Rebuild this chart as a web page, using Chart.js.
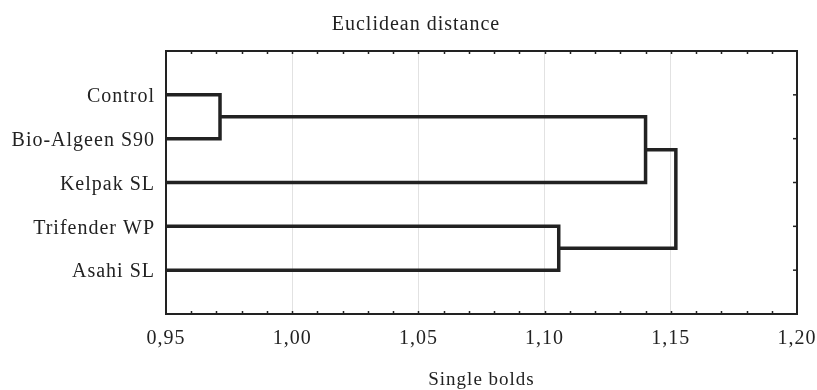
<!DOCTYPE html>
<html>
<head>
<meta charset="utf-8">
<style>
  html, body { margin: 0; padding: 0; background: #fff; }
  #wrap { width: 817px; height: 390px; }
</style>
</head>
<body>
<div id="wrap"><canvas id="tree"></canvas></div>

<script src="https://cdn.jsdelivr.net/npm/chart.js"></script>
<script>
  // leaves, top to bottom
  const categories = ['Control', 'Bio-Algeen S90', 'Kelpak SL', 'Trifender WP', 'Asahi SL'];
  // linkage: node ids 0-4 are leaves, 5+ are the merged clusters in order
  const leftChild = [0, 5, 3, 6];
  const rightChild = [1, 2, 4, 7];
  const linkDistance = [0.9714, 1.1400, 1.1056, 1.1520];
  const xMin = 0.95, xMax = 1.20, xStep = 0.05, xMinorStep = 0.01;

  const ink = '#222';

  // position of each node: leaves sit on the left edge, clusters at their link distance
  const nodes = categories.map((c, i) => ({ x: xMin, y: i + 1 }));
  const datasets = [];
  linkDistance.forEach((d, j) => {
    const a = nodes[leftChild[j]], b = nodes[rightChild[j]];
    datasets.push({
      data: [{ x: a.x, y: a.y }, { x: d, y: a.y }, { x: d, y: b.y }, { x: b.x, y: b.y }],
      showLine: true,
      borderColor: ink,
      borderWidth: 3.5,
      borderJoinStyle: 'miter',
      borderCapStyle: 'butt',
      pointRadius: 0,
      tension: 0
    });
    nodes.push({ x: d, y: (a.y + b.y) / 2 });
  });

  // canvas letter spacing, the original text is set a bit loose
  const spacing = {
    id: 'spacing',
    beforeUpdate(chart) { chart.ctx.letterSpacing = '1px'; },
    beforeDraw(chart) { chart.ctx.letterSpacing = '1px'; },
    afterLayout(chart) {
      // the title sits a little right of the page centre
      if (chart.titleBlock) chart.titleBlock.left = 15;
    }
  };

  // box round the plot plus the small inward ticks
  const frame = {
    id: 'frame',
    afterDatasetsDraw(chart) {
      const { ctx, chartArea: a, scales } = chart;
      ctx.save();
      ctx.strokeStyle = ink;
      ctx.lineWidth = 1.5;
      const n = Math.round((xMax - xMin) / xMinorStep);
      for (let i = 1; i < n; i++) {
        const px = Math.round(scales.x.getPixelForValue(xMin + i * xMinorStep)) + 0.5;
        ctx.beginPath();
        ctx.moveTo(px, a.top); ctx.lineTo(px, a.top + 3);
        ctx.moveTo(px, a.bottom); ctx.lineTo(px, a.bottom - 3);
        ctx.stroke();
      }
      categories.forEach((c, i) => {
        const py = scales.y.getPixelForValue(i + 1);
        ctx.beginPath();
        ctx.moveTo(a.right, py); ctx.lineTo(a.right - 4, py);
        ctx.stroke();
      });
      ctx.lineWidth = 2;
      ctx.strokeRect(a.left, a.top, a.right - a.left, a.bottom - a.top);
      ctx.restore();
    }
  };

  Chart.defaults.font.family = "'Liberation Serif', 'Times New Roman', serif";
  Chart.defaults.color = ink;

  new Chart(document.getElementById('tree'), {
    type: 'scatter',
    data: { datasets },
    options: {
      responsive: true,
      maintainAspectRatio: false,
      animation: false,
      layout: { padding: 0 },
      plugins: {
        legend: { display: false },
        tooltip: { enabled: false },
        title: {
          display: true,
          text: 'Euclidean distance',
          font: { size: 20, weight: 'normal' },
          padding: { top: 13, bottom: 14 }
        }
      },
      scales: {
        x: {
          type: 'linear',
          min: xMin,
          max: xMax,
          ticks: {
            stepSize: xStep,
            padding: 13,
            maxRotation: 0,
            autoSkip: false,
            font: { size: 20 },
            callback: v => Number(v).toFixed(2).replace('.', ',')
          },
          grid: { color: '#e2e2e2', lineWidth: 1, drawTicks: false },
          border: { display: false },
          title: {
            display: true,
            text: 'Single bolds',
            font: { size: 19 },
            padding: { top: 0, bottom: -1 }
          },
          afterFit(s) { s.height = 76; s.paddingLeft = 0; s.paddingRight = 0; }
        },
        y: {
          type: 'linear',
          min: 0,
          max: categories.length + 1,
          reverse: true,
          ticks: {
            stepSize: 1,
            padding: 11,
            labelOffset: 2,
            font: { size: 20 },
            callback: v => categories[v - 1] || ''
          },
          grid: { display: false, drawTicks: false },
          border: { display: false },
          afterFit(s) { s.width = 166; s.paddingTop = 0; s.paddingBottom = 0; }
        },
        yRight: {
          type: 'linear',
          position: 'right',
          min: 0,
          max: categories.length + 1,
          ticks: { display: false },
          grid: { display: false },
          border: { display: false },
          afterFit(s) { s.width = 20; s.paddingTop = 0; s.paddingBottom = 0; }
        }
      }
    },
    plugins: [spacing, frame]
  });
</script>
</body>
</html>
